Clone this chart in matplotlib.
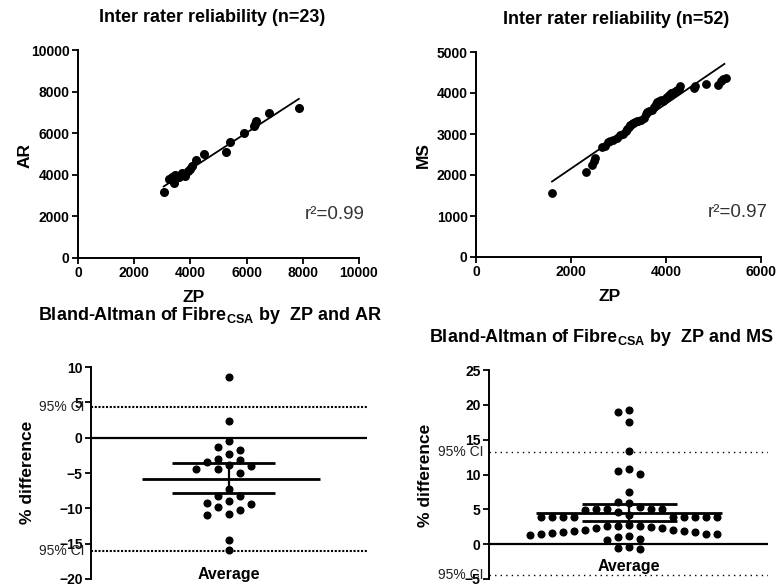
import numpy as np
import matplotlib
matplotlib.use("Agg")
import matplotlib.pyplot as plt

plt.rcParams['font.family'] = ['Liberation Sans', 'DejaVu Sans']
plt.rcParams['mathtext.fontset'] = 'custom'
plt.rcParams['mathtext.rm'] = 'Liberation Sans:bold'
plt.rcParams['mathtext.it'] = 'Liberation Sans:bold'
plt.rcParams['mathtext.bf'] = 'Liberation Sans:bold'

# ---------------- data ----------------
# Inter rater reliability ZP vs AR (n=23)
ar_zp = [3050, 3250, 3350, 3400, 3450, 3500, 3600, 3650, 3700, 3800, 3900, 4000,
         4050, 4200, 4500, 5250, 5400, 5900, 6250, 6300, 6350, 6800, 7850]
ar_ar = [3150, 3800, 3900, 3600, 4000, 3850, 3900, 4000, 4100, 3950, 4200, 4300,
         4400, 4700, 5000, 5100, 5600, 6000, 6350, 6450, 6600, 6950, 7200]
ar_fit_x = [3050, 7860]
ar_fit_y = [3440, 7650]
ar_r2 = "0.99"

# Inter rater reliability ZP vs MS (n=52)
ms_zp = [1600, 2320, 2440, 2480, 2510, 2710, 2770, 2890, 2970, 3040, 3100, 3150, 3180,
         3220, 3250, 3280, 3310, 3350, 3380, 3420, 3540, 3570, 3610, 3650, 3710, 3750,
         3780, 3820, 3860, 3890, 3930, 3960, 4000, 4030, 4070, 4100, 4130, 4170, 4200,
         4240, 4270, 4300, 4580, 4620, 4840, 5100, 5150, 5200, 5260, 2650, 2830, 3480]
ms_ms = [1560, 2080, 2250, 2350, 2420, 2700, 2800, 2860, 2910, 2970, 3000, 3070, 3130,
         3180, 3210, 3250, 3270, 3300, 3310, 3320, 3380, 3500, 3540, 3560, 3580, 3650,
         3720, 3790, 3810, 3830, 3800, 3840, 3880, 3910, 3950, 3990, 4000, 4030, 4050,
         4070, 4100, 4160, 4130, 4160, 4220, 4200, 4300, 4340, 4360, 2680, 2840, 3350]
ms_fit_x = [1600, 5230]
ms_fit_y = [1840, 4710]
ms_r2 = "0.97"

# Bland-Altman % differences
ba_ar = [8.6, 2.4, -0.5, -1.7, -1.3, -2.3, -3.5, -4.0, -3.0, -3.8, -3.2, -4.4, -5.0,
         -4.4, -7.2, -8.3, -9.0, -8.3, -9.4, -9.3, -9.8, -10.8, -10.9, -10.2, -14.5, -15.9]
ba_ar_mean, ba_ar_ci = -5.84, (-3.62, -7.87)
ba_ar_loa = (4.4, -16.1)

ba_ms = [19.25, 18.9, 17.5, 13.4, 10.8, 10.06, 10.5, 7.5, 6.1, 5.85,
         5.27, 5.1, 5.0, 4.65, 4.17, 4.9, 5.0, 5.1,
         3.9, 3.95, 3.85, 3.9, 3.92, 3.88, 3.9, 3.95, 3.85,
         2.6, 2.7,
         2.6, 2.25, 2.0, 1.87, 1.77, 1.53, 1.29, 1.39, 1.2, 1.39, 1.63, 1.77, 1.87, 2.0,
         2.25, 2.5, 2.6,
         0.8, 0.57, 1.05, -0.4, -0.7, -0.5]
ba_ms_mean, ba_ms_ci = 4.5, (5.75, 3.35)
ba_ms_loa = (13.2, -4.45)

# ---------------- figure ----------------
W, H = 778, 588
fig = plt.figure(figsize=(W / 100, H / 100), dpi=100)


def px_axes(l, t, r, b):
    return fig.add_axes([l / W, 1 - b / H, (r - l) / W, (b - t) / H])


TICKFS = 10
LW_SPINE = 1.4


def style(ax, bottom=True):
    for s in ['top', 'right']:
        ax.spines[s].set_visible(False)
    ax.spines['left'].set_linewidth(LW_SPINE)
    if bottom:
        ax.spines['bottom'].set_linewidth(LW_SPINE)
    else:
        ax.spines['bottom'].set_visible(False)
        ax.set_xticks([])
    ax.tick_params(direction='out', length=4.5, width=1.3, pad=1.5,
                   labelsize=TICKFS)
    for lab in ax.get_xticklabels() + ax.get_yticklabels():
        lab.set_fontweight('bold')


# Top-left
ax1 = px_axes(78, 50, 359, 258)
ax1.plot(ar_zp, ar_ar, 'o', color='black', ms=5.5, clip_on=False)
ax1.plot(ar_fit_x, ar_fit_y, '-', color='black', lw=1.3)
ax1.set_xlim(0, 10000)
ax1.set_ylim(0, 10000)
ax1.set_xticks(np.arange(0, 10001, 2000))
ax1.set_yticks(np.arange(0, 10001, 2000))
style(ax1)
ax1.text(0.808, 0.21, "r\u00b2=" + ar_r2, transform=ax1.transAxes, fontsize=13.5,
         color='#333333', va='center', ha='left')

# Top-right
ax2 = px_axes(476, 52, 761, 257)
ax2.plot(ms_zp, ms_ms, 'o', color='black', ms=5.3, clip_on=False)
ax2.plot(ms_fit_x, ms_fit_y, '-', color='black', lw=1.3)
ax2.set_xlim(0, 6000)
ax2.set_ylim(0, 5000)
ax2.set_xticks(np.arange(0, 6001, 2000))
ax2.set_yticks(np.arange(0, 5001, 1000))
style(ax2)
ax2.text(0.814, 0.215, "r\u00b2=" + ms_r2, transform=ax2.transAxes, fontsize=13.5,
         color='#333333', va='center', ha='left')

# titles and labels for the top panels
fig.text(212 / W, 1 - 18 / H, "Inter rater reliability (n=23)", ha='center', va='center',
         fontsize=13, fontweight='bold')
fig.text(616 / W, 1 - 20 / H, "Inter rater reliability (n=52)", ha='center', va='center',
         fontsize=13, fontweight='bold')
fig.text(25 / W, 1 - 155 / H, "AR", rotation=90, ha='center', va='center',
         fontsize=12.5, fontweight='bold')
fig.text(423 / W, 1 - 155 / H, "MS", rotation=90, ha='center', va='center',
         fontsize=12.5, fontweight='bold')
fig.text(194 / W, 1 - 298 / H, "ZP", ha='center', va='center', fontsize=12.5,
         fontweight='bold')
fig.text(610 / W, 1 - 297 / H, "ZP", ha='center', va='center', fontsize=12.5,
         fontweight='bold')


def swarm(values, px_per_unit, step, thresh_px):
    vals = np.asarray(values, dtype=float)
    order = np.argsort(-vals)
    placed = []
    cols = np.zeros(len(vals))
    cand = [0]
    for k in range(1, 30):
        cand += [-k, k]
    for i in order:
        yp = vals[i] * px_per_unit
        for k in cand:
            if all(not (c == k and abs(p - yp) < thresh_px) for c, p in placed):
                break
        placed.append((k, yp))
        cols[i] = k
    return cols * step


def bland(ax, vals, mean, ci, loa, ylim, yticks, mean_span, ci_span, dotstyle,
          dotlw, px_h, px_w, avg_y, cilab_x, thresh):
    ax.set_xlim(-1, 1)
    ax.set_ylim(*ylim)
    ax.set_yticks(yticks)
    style(ax, bottom=False)
    ppu = px_h / (ylim[1] - ylim[0])
    step = 11.0 / (px_w / 2.0)
    xs = swarm(vals, ppu, step, thresh)
    ax.axhline(0, color='black', lw=1.6, zorder=2)
    for v in loa:
        ax.axhline(v, color='black', lw=dotlw, linestyle=dotstyle, zorder=1)
        ax.text(cilab_x, v, "95% CI", transform=ax.get_yaxis_transform(),
                ha='right', va='center', fontsize=10, color='#222222')
    ax.plot(xs, vals, 'o', color='black', ms=4.8, zorder=3, clip_on=False)
    ax.hlines(mean, mean_span[0], mean_span[1], color='black', lw=2.0, zorder=4)
    ax.hlines(ci, ci_span[0], ci_span[1], color='black', lw=2.0, zorder=4)
    ax.vlines(0, min(ci), max(ci), color='black', lw=1.6, zorder=4)
    ax.text(0.5, avg_y, "Average", transform=ax.transAxes, ha='center', va='center',
            fontsize=11.5, fontweight='bold')


# Bottom-left
ax3 = px_axes(91, 367, 367, 579)
bland(ax3, ba_ar, ba_ar_mean, ba_ar_ci, ba_ar_loa, (-20, 10), np.arange(-20, 11, 5),
      (-0.63, 0.66), (-0.41, 0.33), (0, (1, 0.8)), 1.5, 212, 276, 0.02, -0.025, 8.5)

# Bottom-right
ax4 = px_axes(489, 370, 768, 579)
bland(ax4, ba_ms, ba_ms_mean, ba_ms_ci, ba_ms_loa, (-5, 25), np.arange(-5, 26, 5),
      (-0.66, 0.67), (-0.33, 0.35), (0, (1, 3)), 1.0, 209, 279, 0.06, -0.018, 10.0)

fig.text(210 / W, 1 - 315 / H, r"Bland-Altman of Fibre$_{\mathrm{CSA}}$ by  ZP and AR",
         ha='center', va='center', fontsize=13, fontweight='bold')
fig.text(601 / W, 1 - 337 / H, r"Bland-Altman of Fibre$_{\mathrm{CSA}}$ by  ZP and MS",
         ha='center', va='center', fontsize=13, fontweight='bold')
fig.text(28 / W, 1 - 472 / H, "% difference", rotation=90, ha='center', va='center',
         fontsize=12.5, fontweight='bold')
fig.text(425 / W, 1 - 475 / H, "% difference", rotation=90, ha='center', va='center',
         fontsize=12.5, fontweight='bold')

fig.savefig("out.png", dpi=100)
